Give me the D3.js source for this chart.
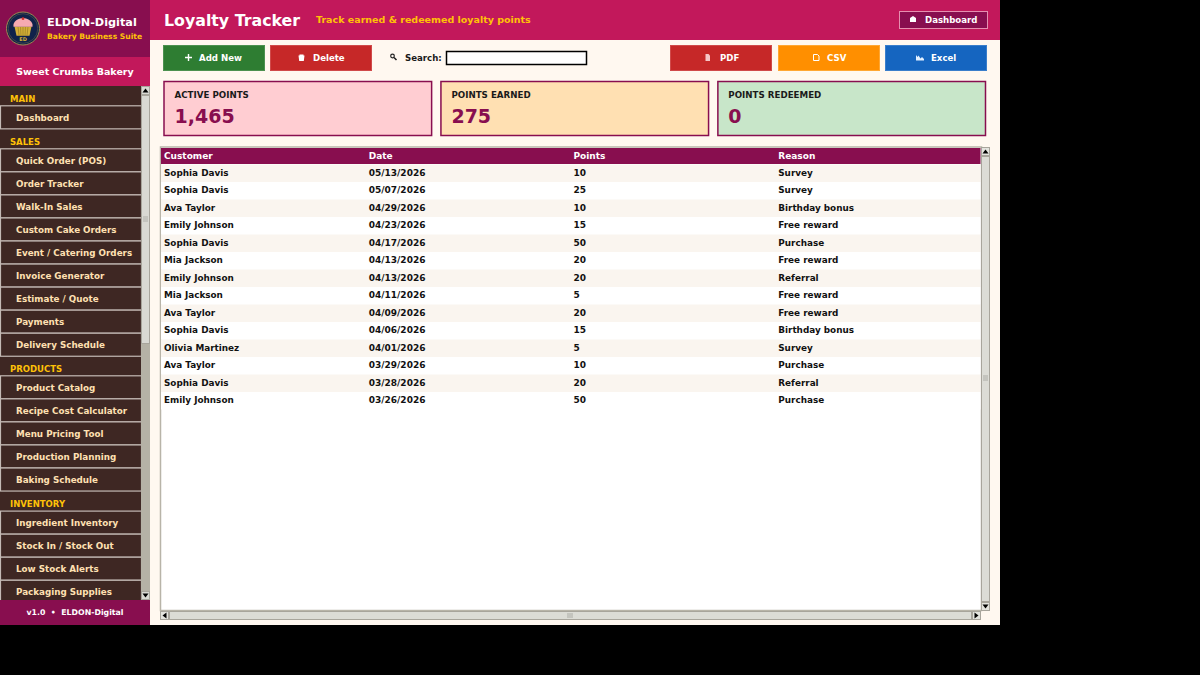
<!DOCTYPE html>
<html>
<head>
<meta charset="utf-8">
<title>Loyalty Tracker</title>
<script src="https://cdn.jsdelivr.net/npm/d3@7"></script>
<style>
  html, body { margin: 0; padding: 0; background: #000; }
  svg { display: block; font-family: "DejaVu Sans", sans-serif; font-weight: bold; }
</style>
</head>
<body>
<div id="app"></div>
<script>
// Table data
const colunas = ['Customer', 'Date', 'Points', 'Reason'];
const clientes = ['Sophia Davis', 'Sophia Davis', 'Ava Taylor', 'Emily Johnson', 'Sophia Davis', 'Mia Jackson', 'Emily Johnson', 'Mia Jackson', 'Ava Taylor', 'Sophia Davis', 'Olivia Martinez', 'Ava Taylor', 'Sophia Davis', 'Emily Johnson'];
const datas = ['05/13/2026', '05/07/2026', '04/29/2026', '04/23/2026', '04/17/2026', '04/13/2026', '04/13/2026', '04/11/2026', '04/09/2026', '04/06/2026', '04/01/2026', '03/29/2026', '03/28/2026', '03/26/2026'];
const pontos = [10, 25, 10, 15, 50, 20, 20, 5, 20, 15, 5, 10, 20, 50];
const motivos = ['Survey', 'Survey', 'Birthday bonus', 'Free reward', 'Purchase', 'Free reward', 'Referral', 'Free reward', 'Free reward', 'Birthday bonus', 'Survey', 'Purchase', 'Referral', 'Purchase'];

// Summary cards
const cardTitulos = ['ACTIVE POINTS', 'POINTS EARNED', 'POINTS REDEEMED'];
const cardValores = ['1,465', '275', '0'];
const cardCores = ['#ffcdd2', '#ffe0b2', '#c8e6c9'];

// Sidebar menu
const menuTitulos = ['MAIN', 'SALES', 'PRODUCTS', 'INVENTORY'];
const menuMain = ['Dashboard'];
const menuSales = ['Quick Order (POS)', 'Order Tracker', 'Walk-In Sales', 'Custom Cake Orders', 'Event / Catering Orders', 'Invoice Generator', 'Estimate / Quote', 'Payments', 'Delivery Schedule'];
const menuProducts = ['Product Catalog', 'Recipe Cost Calculator', 'Menu Pricing Tool', 'Production Planning', 'Baking Schedule'];
const menuInventory = ['Ingredient Inventory', 'Stock In / Stock Out', 'Low Stock Alerts', 'Packaging Supplies'];

const largura = 1200;
const altura = 675;
const vinho = '#880e4f';
const rosa = '#c2185b';
const amarelo = '#ffc107';

const svg = d3.select('#app').append('svg')
    .attr('width', largura)
    .attr('height', altura);

function caixa(x, y, w, h, fill, stroke, sw) {
    return svg.append('rect').attr('x', x).attr('y', y).attr('width', w).attr('height', h)
        .attr('fill', fill).attr('stroke', stroke || 'none').attr('stroke-width', sw || 0);
}
function texto(x, y, str, size, fill, anchor) {
    return svg.append('text').attr('x', x).attr('y', y).attr('dy', '0.36em')
        .attr('text-anchor', anchor || 'start')
        .style('font-size', size + 'px').attr('fill', fill).text(str);
}
function seta(cx, cy, dir, cor) {
    // small scrollbar arrow
    const p = { up: [[-3, 2], [3, 2], [0, -2]], down: [[-3, -2], [3, -2], [0, 2]], left: [[2, -3], [2, 3], [-2, 0]], right: [[-2, -3], [-2, 3], [2, 0]] }[dir];
    svg.append('path').attr('d', d3.line()(p.map(d => [cx + d[0], cy + d[1]])) + 'Z').attr('fill', cor || '#000');
}

// Window background
caixa(0, 0, 1000, 625, '#fff8f0');

// ---- Sidebar ----
caixa(0, 0, 150, 57, vinho);
caixa(0, 57, 150, 29, rosa);
caixa(0, 86, 150, 514, '#3e2723');

// Logo
const logo = svg.append('g').attr('transform', 'translate(23,28.5)');
logo.append('circle').attr('r', 16.5).attr('fill', '#10224a').attr('stroke', '#a08a50').attr('stroke-width', 1);
logo.append('circle').attr('r', 14.8).attr('fill', 'none').attr('stroke', '#6d6748').attr('stroke-width', 0.5);
logo.append('path').attr('d', 'M-8.5,-2 L8.5,-2 L6.5,7.2 L-6.5,7.2 Z').attr('fill', '#d4af37');
[-5, -2.5, 0, 2.5, 5].forEach(function(dx) {
    logo.append('line').attr('x1', dx).attr('y1', -2).attr('x2', dx * 0.8).attr('y2', 7.2)
        .attr('stroke', '#8f7420').attr('stroke-width', 0.6);
});
logo.append('path').attr('d', 'M-9.5,-1.8 C-10.5,-7 -5,-10.5 0,-10.5 C5,-10.5 10.5,-7 9.5,-1.8 Z').attr('fill', '#f6aab0');
logo.append('circle').attr('cy', -9.8).attr('r', 1.4).attr('fill', '#d32f2f');
logo.append('text').attr('y', 12.6).attr('text-anchor', 'middle').style('font-size', '5px').attr('fill', '#d4af37').text('ED');

texto(47, 22, 'ELDON-Digital', 11.25, '#fff');
texto(47, 36.5, 'Bakery Business Suite', 7.6, amarelo);
texto(75, 72, 'Sweet Crumbs Bakery', 9.5, '#fff', 'middle');

// Menu: section titles and items sit on one 23px rhythm
const secoes = [
    { titulo: menuTitulos[0], itens: menuMain, topo: 98 },
    { titulo: menuTitulos[1], itens: menuSales, topo: 141 },
    { titulo: menuTitulos[2], itens: menuProducts, topo: 368 },
    { titulo: menuTitulos[3], itens: menuInventory, topo: 503.3 }
];
secoes.forEach(function(s) {
    texto(10, s.topo + 0.6, s.titulo, 8.5, amarelo);
    const escalaItem = d3.scaleLinear().domain([0, 1]).range([s.topo + 19.3, s.topo + 19.3 + 23.05]);
    s.itens.forEach(function(item, i) {
        const cy = escalaItem(i);
        caixa(0.5, cy - 11.5, 141, 23.05, '#3e2723', '#c4bab5', 1.2);
        texto(16, cy + 0.2, item, 8.75, '#ffe0b2');
    });
});

// Sidebar scrollbar
caixa(141, 86, 9, 514, '#b5b2a6');
caixa(141.5, 86.5, 8, 8, '#d9d9d3', '#a8a59c', 1);
caixa(141.5, 95.5, 8, 248, '#d9d9d3', '#a8a59c', 1);
caixa(141.5, 591.5, 8, 8, '#d9d9d3', '#a8a59c', 1);
caixa(143, 216, 5, 6, '#c4c4be');
seta(145.5, 90.5, 'up');
seta(145.5, 595.5, 'down');

caixa(0, 600, 150, 25, vinho);
texto(75, 612, 'v1.0  •  ELDON-Digital', 7.8, '#fff', 'middle').style('white-space', 'pre');

// ---- Header ----
caixa(150, 0, 850, 40, rosa);
texto(164, 20, 'Loyalty Tracker', 15.8, '#fff');
texto(316, 19.5, 'Track earned & redeemed loyalty points', 9.5, amarelo);
caixa(899.5, 11.5, 88, 17, vinho, '#e58fb0', 1);
svg.append('path').attr('d', 'M910,18 L913,16 L916,18 L916,22 L910,22 Z').attr('fill', '#fff');
texto(925, 19.5, 'Dashboard', 8.6, '#fff');

// ---- Toolbar buttons ----
function botao(x, cor, borda, rotulo, tx) {
    caixa(x + 0.5, 45.5, 101, 25, cor, borda, 1);
    texto(tx, 57.5, rotulo, 8.6, '#fff');
}
botao(163, '#2e7d32', '#4c9150', 'Add New', 199);
botao(270, '#c62828', '#d04a4a', 'Delete', 313);
botao(670, '#c62828', '#d04a4a', 'PDF', 720);
botao(778, '#ff8f00', '#ffa733', 'CSV', 827);
botao(885, '#1565c0', '#3a7ecb', 'Excel', 931);

// Button icons
svg.append('path').attr('d', 'M185,57.5 h7 M188.5,54 v7').attr('stroke', '#fff').attr('stroke-width', 1.4);
svg.append('path').attr('d', 'M298.5,55.5 h6 l-0.7,5.5 h-4.6 Z M299.5,54.5 h4 v1 h-4 Z').attr('fill', '#fff');
svg.append('path').attr('d', 'M705.5,54 h3 l1.5,1.5 v5.5 h-4.5 Z').attr('fill', '#f5c6c6');
svg.append('path').attr('d', 'M813.5,54.5 h4 l1.5,1.5 v4.5 h-5.5 Z').attr('fill', 'none').attr('stroke', '#fff').attr('stroke-width', 1);
svg.append('path').attr('d', 'M916,55 v5.5 h8 v-1.5 l-2,-2 l-1.5,1.5 l-2,-3 l-1,1.5 Z').attr('fill', '#e3f0ff');

// Search
svg.append('circle').attr('cx', 392.5).attr('cy', 56).attr('r', 1.8).attr('fill', 'none').attr('stroke', '#222').attr('stroke-width', 1.2);
svg.append('line').attr('x1', 394).attr('y1', 57.5).attr('x2', 396.5).attr('y2', 60).attr('stroke', '#222').attr('stroke-width', 1.6);
texto(405, 57.5, 'Search:', 8.6, '#1a1a1a');
caixa(446.5, 51.5, 140, 13, '#fff', '#000', 1.5);

// ---- Summary cards ----
const escalaCard = d3.scaleBand().domain(cardTitulos).range([163.5, 986]).paddingInner(0.03);
cardTitulos.forEach(function(t, i) {
    const x = escalaCard(t);
    caixa(x + 0.5, 81.5, escalaCard.bandwidth() - 1, 54, cardCores[i], vinho, 1.5);
    texto(x + 11, 95, t, 8.7, '#1a1a1a');
    texto(x + 11, 116, cardValores[i], 19, vinho);
});

// ---- Table ----
caixa(160.5, 147, 821, 463.5, '#fff', '#b8b4a8', 1.5);
caixa(161, 148, 819.5, 16, vinho);

const escalaColuna = d3.scaleBand().domain(colunas).range([161, 980]);
const escalaLinha = d3.scaleBand().domain(d3.range(clientes.length)).range([164.5, 164.5 + 17.5 * clientes.length]);

colunas.forEach(function(c) {
    texto(escalaColuna(c) + 3, 156, c, 9, '#fff');
});

const linhas = clientes.map((c, i) => [c, datas[i], pontos[i], motivos[i]]);
svg.append('g').selectAll('rect').data(linhas).enter().append('rect')
    .attr('x', 161)
    .attr('y', (d, i) => escalaLinha(i))
    .attr('width', 819.5)
    .attr('height', escalaLinha.bandwidth())
    .attr('fill', (d, i) => i % 2 === 0 ? '#faf5ef' : '#fff');

linhas.forEach(function(linha, i) {
    linha.forEach(function(v, j) {
        // names are a touch narrower than digits in the reference
        const tam = (j === 0 || j === 3) ? 8.85 : 9;
        texto(escalaColuna(colunas[j]) + 3, escalaLinha(i) + escalaLinha.bandwidth() / 2 - 0.5, v, tam, '#111');
    });
});

// Table scrollbars
caixa(981, 147, 9, 464, '#d9d9d3');
caixa(981.5, 147.5, 8, 8, '#e4e4de', '#a8a59c', 1);
caixa(981.5, 156.5, 8, 445, '#dcdcd6', '#a8a59c', 1);
caixa(981.5, 602.5, 8, 8, '#e4e4de', '#a8a59c', 1);
caixa(983, 375, 5, 6, '#c4c4be');
seta(985.5, 151.5, 'up');
seta(985.5, 606.5, 'down');

caixa(160, 611, 821, 9, '#d9d9d3');
caixa(160.5, 611.5, 8, 8, '#e4e4de', '#a8a59c', 1);
caixa(169.5, 611.5, 802, 8, '#dcdcd6', '#a8a59c', 1);
caixa(972.5, 611.5, 8, 8, '#e4e4de', '#a8a59c', 1);
caixa(567, 613, 6, 5, '#c4c4be');
seta(164.5, 615.5, 'left');
seta(976.5, 615.5, 'right');
</script>
</body>
</html>
